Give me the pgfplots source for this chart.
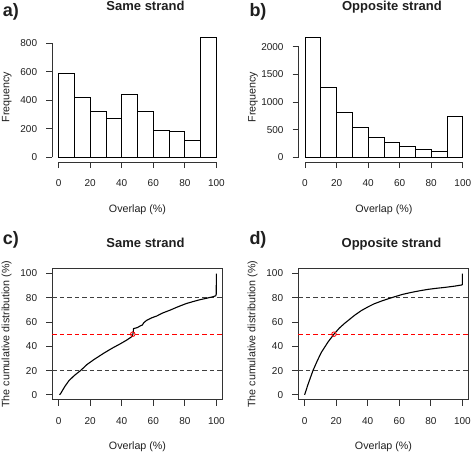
\documentclass[border=0pt]{standalone}
\usepackage{fontspec}
\setmainfont{Liberation Sans}
\usepackage{pgfplots}
\pgfplotsset{compat=1.18}

\definecolor{txt}{gray}{0.12}
\definecolor{ln}{gray}{0.2}

\pgfplotstableread{
x y
0 589
10 419
20 320
30 274
40 442
50 320
60 192
70 185
80 119
90 844
100 844
}\histsame

\pgfplotstableread{
x y
0 2174
10 1261
20 811
30 547
40 366
50 270
60 204
70 138
80 108
90 739
100 739
}\histopp

\pgfplotstableread{
x y
0.6 0
1.5 1.5
2.3 3.3
4 7
6.5 11.6
10 16
13.9 20
18 25
22.3 29
28.6 34.3
34 38.5
39 42
43 45
46.4 48
47 49.5
47.3 52
47.5 54.6
50 55.5
51.7 56.8
53 57.5
54 59.5
55.9 61.5
59 63.5
62.2 65
66 67.5
70.6 69.8
76 72.8
81 75.3
85 76.8
89.5 78.4
94 79.7
97.9 80.9
99.6 81.7
99.9 83
100 100
}\cumsame

\pgfplotstableread{
x y
0 0
1 4
2 8
3.5 13.5
5.3 20
8 28
10.6 35
14.8 43.5
18.6 50
22 55
25.4 59
31.8 65.7
36 69.5
40.3 72.6
44 75
48.7 77.3
53 79.2
57.2 80.9
62 82.8
67.8 84.5
73 85.8
78.4 87
84 87.9
89 88.6
95 89.6
99.6 90.6
100 91
100 100
}\cumopp

\pgfplotsset{
 rbase/.style={
  scale only axis, width=170.4pt,
  xmin=-4, xmax=104,
  xtick={0,20,...,100},
  tick align=outside, major tick length=6pt,
  xtick pos=bottom, ytick pos=left,
  tick style={ln, line width=0.8pt},
  /pgf/number format/assume math mode=true,
  /pgf/number format/1000 sep={},
  tick label style={font=\fontsize{10}{12}\selectfont, text=txt, inner sep=0pt},
  yticklabel style={anchor=east, xshift=-9pt},
  xticklabel style={anchor=north, yshift=-11.5pt},
  label style={font=\fontsize{10.7}{12}\selectfont, text=txt},
  xlabel={Overlap (\%)},
  xlabel style={at={(axis description cs:0.5,0)}, anchor=base, yshift=-50pt},
  ylabel style={at={(axis description cs:-0.2525,0.5)}, anchor=base},
  clip=false,
  title style={at={(axis description cs:0.5,1)}, anchor=base, xshift=8pt, yshift=15.3pt, font=\bfseries\fontsize{13}{15}\selectfont, text=txt},
 },
 hist/.style={rbase, height=129.9pt, axis line style={draw=none}},
 cum/.style={rbase, height=131pt, ymin=-4, ymax=104, ytick={0,20,...,100},
   axis line style={ln, line width=0.8pt},
   ylabel={The cumulative distribution (\%)}},
}

\tikzset{
 dgray/.style={black!75, line width=1pt, dash pattern=on 4.5pt off 3pt},
 dred/.style={red, line width=1pt, dash pattern=on 4.5pt off 3pt},
 curve/.style={black, line width=1.1pt},
 plab/.style={anchor=base west, inner sep=0pt, font=\bfseries\fontsize{18}{20}\selectfont, text=txt},
}

\begin{document}
\begin{tikzpicture}
\path[use as bounding box] (0,0) rectangle (472pt,454pt);

% a)
\begin{axis}[hist, at={(52.3pt,291.9pt)}, anchor=south west,
  ymin=-33.76, ymax=877.76, ytick={0,200,...,800},
  ylabel={Frequency}, title={Same strand}]
\addplot[ybar interval, fill=white, draw=black, line width=0.8pt] table[x=x,y=y] {\histsame};
\draw[ln, line width=0.8pt] (axis cs:0,-33.76) -- (axis cs:100,-33.76);
\draw[ln, line width=0.8pt] (axis cs:-4,0) -- (axis cs:-4,800);
\end{axis}

% b)
\begin{axis}[hist, at={(298.7pt,291.9pt)}, anchor=south west,
  ymin=-86.96, ymax=2260.96, ytick={0,500,...,2000},
  ylabel={Frequency}, title={Opposite strand}]
\addplot[ybar interval, fill=white, draw=black, line width=0.8pt] table[x=x,y=y] {\histopp};
\draw[ln, line width=0.8pt] (axis cs:0,-86.96) -- (axis cs:100,-86.96);
\draw[ln, line width=0.8pt] (axis cs:-4,0) -- (axis cs:-4,2000);
\end{axis}

% c)
\begin{axis}[cum, at={(52.3pt,54.3pt)}, anchor=south west, title={Same strand}]
\addplot[dgray] coordinates {(-4,20) (104,20)};
\addplot[dgray] coordinates {(-4,80) (104,80)};
\addplot[dred] coordinates {(-4,50) (104,50)};
\addplot[curve] table[x=x,y=y] {\cumsame};
\addplot[only marks, mark=o, red, mark size=2.3pt, line width=0.8pt] coordinates {(47,50)};
\end{axis}

% d)
\begin{axis}[cum, at={(298.3pt,54.3pt)}, anchor=south west, title={Opposite strand}]
\addplot[dgray] coordinates {(-4,20) (104,20)};
\addplot[dgray] coordinates {(-4,80) (104,80)};
\addplot[dred] coordinates {(-4,50) (104,50)};
\addplot[curve] table[x=x,y=y] {\cumopp};
\addplot[only marks, mark=o, red, mark size=2.3pt, line width=0.8pt] coordinates {(18.6,50)};
\end{axis}

\node[plab] at (2.7pt,437.5pt) {a)};
\node[plab] at (249.3pt,437.5pt) {b)};
\node[plab] at (2.7pt,209.5pt) {c)};
\node[plab] at (249.3pt,209.5pt) {d)};
\end{tikzpicture}
\end{document}
